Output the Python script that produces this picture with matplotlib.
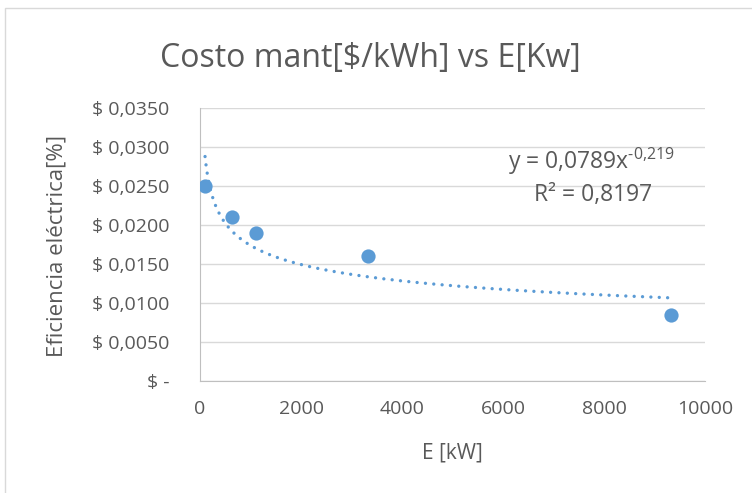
import numpy as np
import matplotlib.pyplot as plt
from matplotlib.patches import Rectangle

# data
energia = [100, 630, 1110, 3330, 9330]
costo = [0.0250, 0.0210, 0.0190, 0.0160, 0.0085]
coef_a = 0.0789
coef_b = -0.219
y_ticks = [0, 0.005, 0.010, 0.015, 0.020, 0.025, 0.030, 0.035]
x_ticks = [0, 2000, 4000, 6000, 8000, 10000]

plt.rcParams['font.family'] = ['Open Sans', 'DejaVu Sans']
plt.rcParams['mathtext.fontset'] = 'custom'
plt.rcParams['mathtext.rm'] = 'Open Sans'
gris = '#595959'
azul = '#5B9BD5'

fig = plt.figure(figsize=(7.52, 4.93), dpi=100)
ax = fig.add_axes([200/752, 1 - 381/493, 505/752, 273/493])

# chart area border
fig.patches.append(Rectangle((5/752, -0.1), 1.1, 1 - 8/493 + 0.1, transform=fig.transFigure,
                             fill=False, edgecolor='#d9d9d9', linewidth=1))

# power trendline over the data range
xs = np.linspace(min(energia), max(energia), 400)
ax.plot(xs, coef_a * xs ** coef_b, linestyle=(0, (0.01, 2.5)), dash_capstyle='round',
        color=azul, linewidth=2.4, zorder=2)
ax.scatter(energia, costo, s=105, color=azul, zorder=3, linewidths=0)

ax.set_xlim(0, 10000)
ax.set_ylim(0, 0.035)
ax.set_xticks(x_ticks)
ax.set_yticks(y_ticks)
ax.set_yticklabels(['$ -'] + ['$ ' + ('%.4f' % v).replace('.', ',') for v in y_ticks[1:]])
ax.tick_params(length=0, labelsize=14, colors=gris)
ax.tick_params(axis='y', pad=22)
ax.tick_params(axis='x', pad=14)
ax.grid(axis='y', color='#d9d9d9', linewidth=1)
ax.set_axisbelow(True)
for s in ['top', 'right']:
    ax.spines[s].set_visible(False)
for s in ['left', 'bottom']:
    ax.spines[s].set_color('#bfbfbf')

ax.set_xlabel('E [kW]', fontsize=15, color=gris, va='center')
ax.xaxis.set_label_coords(0.5, (381 - 453) / 273)
ax.set_ylabel('Eficiencia eléctrica[%]', fontsize=16, color=gris, va='center')
ax.yaxis.set_label_coords((57 - 200) / 505, 0.494)
fig.text(370/752, 1 - 58/493, 'Costo mant[$/kWh] vs E[Kw]', fontsize=23, color=gris,
         ha='center', va='center')

ax.text(0.776, 0.806, 'y = 0,0789x$^{\\text{-0,219}}$', transform=ax.transAxes,
        fontsize=16.5, color=gris, ha='center', va='center')
ax.text(0.778, 0.68, 'R² = 0,8197', transform=ax.transAxes,
        fontsize=16.5, color=gris, ha='center', va='center')

fig.savefig('out.png', dpi=100)
